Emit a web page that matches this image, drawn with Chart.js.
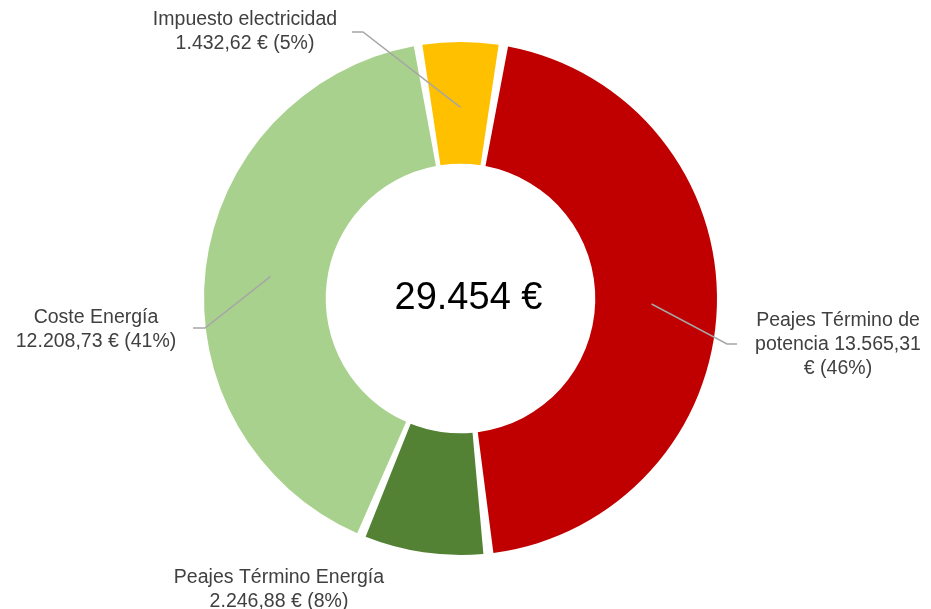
<!DOCTYPE html>
<html>
<head>
<meta charset="utf-8">
<script src="https://cdn.jsdelivr.net/npm/chart.js@4.4.1/dist/chart.umd.min.js"></script>
<style>
  html, body { margin: 0; padding: 0; background: #ffffff; }
  #wrap { width: 931px; height: 609px; position: relative; }
</style>
</head>
<body>
<div id="wrap"><canvas id="c" width="931" height="609"></canvas></div>
<script>
// ---- Data ----
const categories = ['Impuesto electricidad', 'Peajes Término de potencia', 'Peajes Término Energía', 'Coste Energía'];
const values = [1432.62, 13565.31, 2246.88, 12208.73];
const labelLines = [
  ['Impuesto electricidad', '1.432,62 € (5%)'],
  ['Peajes Término de', 'potencia 13.565,31', '€ (46%)'],
  ['Peajes Término Energía', '2.246,88 € (8%)'],
  ['Coste Energía', '12.208,73 € (41%)']
];
const totalLabel = '29.454 €';
const colors = ['#FFC000', '#C00000', '#548235', '#A9D18E'];

// ---- Layout / style (not data) ----
const FONT = '"Liberation Sans", Arial, sans-serif';
const labelBoxes = [
  { x: 245, y: 20, leader: [[363, 32], [352, 32]] },
  { x: 838, y: 321, leader: [[727, 344], [737, 344]] },
  { x: 279, y: 578, leader: null },
  { x: 96, y: 318, leader: [[205, 328], [193, 328]] }
];

const total = values.reduce((a, b) => a + b, 0);
const rotation = -(values[0] / total) * 180;

const labelPlugin = {
  id: 'donutLabels',
  afterDraw(chart) {
    const ctx = chart.ctx;
    const meta = chart.getDatasetMeta(0);
    ctx.save();
    const cx = (chart.chartArea.left + chart.chartArea.right) / 2;
    const cy = (chart.chartArea.top + chart.chartArea.bottom) / 2;
    ctx.fillStyle = '#000000';
    ctx.font = '38px ' + FONT;
    ctx.textAlign = 'center';
    ctx.textBaseline = 'middle';
    ctx.fillText(totalLabel, cx + 8, cy);

    meta.data.forEach((arc, i) => {
      const p = arc.getProps(['x', 'y', 'startAngle', 'endAngle', 'innerRadius', 'outerRadius'], true);
      const mid = (p.startAngle + p.endAngle) / 2;
      const r = (p.innerRadius + p.outerRadius) / 2;
      const sx = p.x + Math.cos(mid) * r;
      const sy = p.y + Math.sin(mid) * r;
      const box = labelBoxes[i];
      if (box.leader) {
        ctx.strokeStyle = '#A6A6A6';
        ctx.lineWidth = 1.5;
        ctx.beginPath();
        ctx.moveTo(sx, sy);
        box.leader.forEach(pt => ctx.lineTo(pt[0], pt[1]));
        ctx.stroke();
      }
      ctx.fillStyle = '#404040';
      ctx.font = '19.5px ' + FONT;
      ctx.textAlign = 'center';
      ctx.textBaseline = 'middle';
      labelLines[i].forEach((t, k) => {
        ctx.fillText(t, box.x, box.y + k * 24);
      });
    });
    ctx.restore();
  }
};

new Chart(document.getElementById('c'), {
  type: 'doughnut',
  data: {
    labels: categories,
    datasets: [{
      data: values,
      backgroundColor: colors,
      borderWidth: 0,
      spacing: 9,
      hoverOffset: 0
    }]
  },
  options: {
    responsive: false,
    devicePixelRatio: 1,
    animation: false,
    rotation: rotation,
    cutout: '51.7%',
    layout: { padding: { left: 204, right: 214, top: 42, bottom: 54 } },
    plugins: {
      legend: { display: false },
      tooltip: { enabled: false },
      title: { display: false }
    },
    events: []
  },
  plugins: [labelPlugin]
});
</script>
</body>
</html>
